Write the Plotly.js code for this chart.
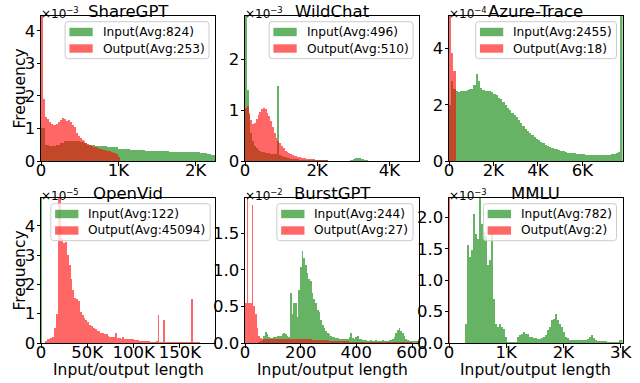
<!DOCTYPE html>
<html><head><meta charset="utf-8">
<script src="https://cdn.plot.ly/plotly-3.0.1.min.js"></script>
<style>html,body{margin:0;padding:0;background:#fff}#chart{width:640px;height:383px}</style>
</head><body><div id="chart"></div>
<script>
// ---------------- DATA ----------------
const datasetNames = ['ShareGPT', 'WildChat', 'Azure-Trace', 'OpenVid', 'BurstGPT', 'MMLU'];
const inputAvg = [824, 496, 2455, 122, 244, 782];
const outputAvg = [253, 510, 18, 45094, 27, 2];
const freqExponent = [-3, -3, -4, -5, -2, -3];

// histogram bin widths (tokens) and bin heights (in units of 10^exponent)
const shareInBin = 50;
const shareIn = [1.0,0.5,0.45,0.46,0.5,0.55,0.6,0.62,0.62,0.6,0.58,0.55,0.5,0.48,0.46,0.45,0.45,0.44,0.44,0.43,
  0.38,0.37,0.36,0.35,0.34,0.34,0.33,0.32,0.31,0.31,0.3,0.3,0.3,0.29,0.29,0.29,0.28,0.28,0.28,0.27,0.27,
  0.26,0.25,0.22,0.2];
const shareOutBin = 25;
const shareOut = [4.6,1.9,1.35,1.3,1.2,1.15,1.12,1.12,1.15,1.2,1.25,1.32,1.28,1.22,1.25,1.2,1.12,1.05,0.85,0.78,
  0.72,0.65,0.6,0.55,0.52,0.48,0.46,0.44,0.42,0.4,0.38,0.36,0.34,0.33,0.31,0.3,0.28,0.26,0.24,0.22,0.12];

const wildInBin = 50;
const wildIn = [2.9,1.4,0.9,0.55,0.4,0.3,0.25,0.22,0.2,0.18, 0.17,0.16,0.15,0.15,0.14,0.13,0.13,0.13,1.48,0.12,
  0.1,0.08,0.07,0.06,0.05,0.045,0.04,0.035,0.03,0.03, 0.025,0.025,0.02,0.02,0.02,0.018,0.016,0.015,0.014,0.013,
  0.012,0.01,0.01,0.01,0.01,0.01,0.008,0.008,0.008,0.008, 0.008,0.008,0.008,0.008,0.008,0.008,0.008,0.008,0.01,0.02,
  0.04,0.05,0.05,0.05,0.04,0.03,0.02,0.01,0.005,0.005, 0.005,0.005,0.005,0.005,0.005,0.005,0.005,0.005,0.005,0.005,
  0.005,0.005,0.005,0.005,0.005,0.005,0.005,0.005,0.005,0.005, 0.005,0.005,0.005,0.005,0.005,0.005];
const wildOutBin = 50;
const wildOut = [1.05,1.08,0.95,0.8,0.72,0.75,0.82,0.9,0.96,1.02, 1.04,1.02,0.95,0.88,0.78,0.66,0.55,0.46,0.4,0.35,
  0.3,0.25,0.2,0.17,0.15,0.13,0.11,0.1,0.09,0.08, 0.07,0.06,0.055,0.05,0.045,0.04,0.035,0.03,0.03,0.025,
  0.025,0.02,0.02,0.015,0.01,0.01];

const azureInBin = 100;
const azureIn = [2.0,2.85,2.55,2.5,2.45,2.5,2.48,2.5,2.52,2.55, 2.58,2.7,3.08,2.85,2.6,2.52,2.5,2.5,2.48,2.45,
  2.4,2.35,2.25,2.2,2.1,2.0,1.9,1.8,1.72,1.65, 1.55,1.45,1.35,1.25,1.15,1.08,1.0,0.92,0.85,0.8,
  0.74,0.68,0.63,0.58,0.54,0.5,0.47,0.44,0.41,0.39, 0.36,0.34,0.32,0.3,0.29,0.28,0.27,0.26,0.25,0.24,
  0.24,0.23,0.23,0.22,0.22,0.21,0.21,0.2,0.2,0.2, 0.2,0.21,0.22,0.24,0.26,0.28,0.33,6.0];
const azureOutBin = 100;
const azureOut = [5.5,3.85,3.2];

const openInBin = 1600;
const openIn = [12];
const openOutBin = 2000;
const openOut = [0,0,0.08,0.12,0.15,0.18,0.2,0.5,1.0,5.5, 5.5,3.6,3.4,3.45,3.0,2.65,2.2,1.8,1.55,1.5,
  1.45,1.05,0.95,0.85,0.78,0.7,0.62,0.58,0.5,0.48, 0.42,0.4,0.35,0.33,0.3,0.32,0.25,0.22,0.22,0.2,
  0.35,0.18,0.16,0.15,0.2,0.15,0.13,0.12,0.14,0.12, 0.1,0.1,0.09,0.08,0.08,0.07,0.07,0.06,0.06,0.05,
  0.05,0.05,0.06,0.95,0.05,0.05,0.78,0.04,0.04,0.04, 0.03,0.04,0.03,0.03,0.04,0.03,0.03,0.03,0.04,0.03,
  0.03,1.5,0.03,0.02,0.02,0.02];

const burstInBin = 6;
const burstIn = [0,0,0,0,0,0,0,0,0.01,0.03, 0.04,0.1,0.15,0.12,0.08,0.07,0.07,0.08,0.08,0.09,
  0.1,0.1,0.12,0.14,0.12,0.09,0.08,0.68,0.4,0.54, 0.55,0.36,0.72,1.04,1.25,1.16,1.06,0.95,0.88,0.84,
  0.68,0.6,0.54,0.45,0.42,0.32,0.24,0.2,0.16,0.14, 0.12,0.09,0.08,0.08,0.07,0.07,0.06,0.06,0.06,0.06,
  0.06,0.05,0.08,0.13,0.07,0.06,0.08,0.09,0.06,0.05, 0.04,0.035,0.035,0.03,0.03,0.035,0.03,0.03,0.035,0.03,
  0.03,0.03,0.035,0.03,0.03,0.03,0.035,0.04,0.05,0.08, 0.13,0.18,0.2,0.17,0.14,0.1,0.06,0.04,0.03,0.03,
  0.03,0.03,0.03,0.03];
const burstOutBin = 6;
const burstOut = [0.54,2.1,0.55,0.55,1.89,0.5,0.4,0.2,0.1,0.07, 0.06,0.06,0.06,0.06,0.06,0.06,0.06,0.06,0.06,0.06,
  0.06,0.05,0.05,0.05,0.05,0.05,0.05,0.05,0.05,0.05, 0.05,0.05,0.05,0.05,0.05,0.05,0.05,0.05,0.05,0.05,
  0.04,0.04,0.035,0.035,0.035,0.035,0.035,0.035,0.035,0.035, 0.03,0.03,0.03,0.03,0.03,0.03,0.03,0.03,0.03,0.03,
  0.025,0.025,0.02,0.02,0.02,0.02,0.02,0.02,0.02,0.02, 0.015,0.015,0.015,0.015,0.015,0.015,0.015,0.015,0.015,0.015,
  0.01,0.01,0.01,0.01,0.01,0.01,0.01,0.01,0.01,0.01, 0.01,0.01,0.01,0.01,0.01,0.01,0.01,0.01,0.01,0.01];

const mmluInBin = 35;
const mmluIn = [0,0,0,0,0,0,0,0,0.31, 1.56,1.37,1.48,2.06,1.74,1.66,2.4,1.9, 1.77,1.7,1.24,1.32,1.74,
  0.7,0.3,0.25,0.31,0.26,0.23,0.1, 0.02,0.02,0.02,0.02,0.02, 0.1,0.12,0.15,0.18,0.14,0.15,
  0.1,0.09,0.08,0.08,0.07,0.07,0.08, 0.1,0.12,0.2,0.26,0.36,0.38,0.47,0.36,0.31, 0.25,0.18,0.1,0.08,
  0.04,0.04,0.04,0.04,0.04,0.04,0.04,0.04,0.04, 0.06,0.1,0.12,0.08,0.05, 0.03,0.03,0.03,0.03,0.03,
  0.01,0.01,0.01,0.01,0.01,0.01, 0.05,0.05];
const mmluOutBin = 15;
const mmluOut = [6];

// axis ticks
const xTickVals = [[0,1000,2000],[0,2000,4000],[0,2000,4000,6000],[0,50000,100000,150000],[0,200,400,600],[0,1000,2000,3000]];
const xTickText = [['0','1K','2K'],['0','2K','4K'],['0','2K','4K','6K'],['0','50K','100K','150K'],['0','200','400','600'],['0','1K','2K','3K']];
const yTickVals = [[0,1,2,3,4],[0,1,2],[0,2,4],[0,1,2,3,4],[0,0.5,1,1.5],[0,0.5,1,1.5,2]];
const yTickText = [['0','1','2','3','4'],['0','1','2'],['0','2','4'],['0','1','2','3','4'],['0.0','0.5','1.0','1.5'],['0.0','0.5','1.0','1.5','2.0']];

// ---------------- LAYOUT / DRAW ----------------
const W = 640, H = 383;
const FONT = 'DejaVu Sans';
const TICK_SIZE = 16.5, LABEL_SIZE = 15.5, TITLE_SIZE = 16.5, LEG_SIZE = 12.2, EXP_SIZE = 12;
const cols = [[41, 215], [245, 419], [449, 622.5]];
const rows = [[16, 161], [198, 343]];
const xMax = [2250, 4820, 7800, 188000, 625, 3030];
const yMax = [4.46, 2.85, 5.16, 4.95, 1.98, 2.31];
const legendAlign = ['right', 'right', 'right', 'center', 'right', 'right'];
const GREEN = 'rgba(0,128,0,0.6)', RED = 'rgba(255,0,0,0.6)';

const series = [
  [shareInBin, shareIn, shareOutBin, shareOut],
  [wildInBin, wildIn, wildOutBin, wildOut],
  [azureInBin, azureIn, azureOutBin, azureOut],
  [openInBin, openIn, openOutBin, openOut],
  [burstInBin, burstIn, burstOutBin, burstOut],
  [mmluInBin, mmluIn, mmluOutBin, mmluOut]
];

const px = x => x / W;
const py = y => 1 - y / H;

const traces = [];
const layout = {
  width: W, height: H, margin: {l: 0, r: 0, t: 0, b: 0},
  paper_bgcolor: '#fff', plot_bgcolor: '#fff',
  barmode: 'overlay', bargap: 0, showlegend: false,
  font: {family: FONT, color: '#000'},
  shapes: [], annotations: []
};

function legendShapes(i, textW) {
  const [c0, c1] = cols[i % 3];
  const r0 = rows[Math.floor(i / 3)][0];
  const bw = 36.6 + textW + 5.5, bh = 37;
  const bl = legendAlign[i] === 'right' ? c1 - 6 - bw : (c0 + c1) / 2 + 2.5 - bw / 2;
  const bt = r0 + 5.7;
  const br = bl + bw, bb = bt + bh, rr = 3;
  const path = `M${px(bl + rr)},${py(bt)} L${px(br - rr)},${py(bt)} Q${px(br)},${py(bt)} ${px(br)},${py(bt + rr)} ` +
    `L${px(br)},${py(bb - rr)} Q${px(br)},${py(bb)} ${px(br - rr)},${py(bb)} L${px(bl + rr)},${py(bb)} ` +
    `Q${px(bl)},${py(bb)} ${px(bl)},${py(bb - rr)} L${px(bl)},${py(bt + rr)} Q${px(bl)},${py(bt)} ${px(bl + rr)},${py(bt)} Z`;
  const out = [{type: 'path', xref: 'paper', yref: 'paper', path: path,
    fillcolor: 'rgba(255,255,255,0.8)', line: {color: '#cccccc', width: 1}}];
  const colors = [GREEN, RED];
  const centers = [bt + 10.3, bt + 26.8];
  for (let k = 0; k < 2; k++) {
    out.push({type: 'rect', xref: 'paper', yref: 'paper',
      x0: px(bl + 4.3), x1: px(bl + 27.6), y0: py(centers[k] - 4.2), y1: py(centers[k] + 4.2),
      fillcolor: colors[k], line: {width: 0}});
  }
  return {shapes: out, bl: bl, centers: centers};
}

const legendAnnIdx = [];
for (let i = 0; i < 6; i++) {
  const s = i === 0 ? '' : String(i + 1);
  const [c0, c1] = cols[i % 3];
  const [r0, r1] = rows[Math.floor(i / 3)];
  const [inBin, inY, outBin, outY] = series[i];
  traces.push({type: 'bar', x0: inBin / 2, dx: inBin, y: inY, width: inBin,
    xaxis: 'x' + s, yaxis: 'y' + s, marker: {color: GREEN, line: {width: 0}}, hoverinfo: 'skip'});
  traces.push({type: 'bar', x0: outBin / 2, dx: outBin, y: outY, width: outBin,
    xaxis: 'x' + s, yaxis: 'y' + s, marker: {color: RED, line: {width: 0}}, hoverinfo: 'skip'});

  const common = {ticks: 'outside', ticklen: 3.5, tickwidth: 1, tickcolor: '#000',
    showline: true, linecolor: '#000', linewidth: 1, mirror: true, showgrid: false, zeroline: false,
    tickfont: {family: FONT, size: TICK_SIZE, color: '#000'}, fixedrange: true, automargin: false};
  layout['xaxis' + s] = Object.assign({}, common, {domain: [px(c0), px(c1)], anchor: 'y' + s,
    range: [0, xMax[i]], tickmode: 'array', tickvals: xTickVals[i], ticktext: xTickText[i], ticklabelstandoff: -9});
  layout['yaxis' + s] = Object.assign({}, common, {domain: [py(r1), py(r0)], anchor: 'x' + s,
    range: [0, yMax[i]], tickmode: 'array', tickvals: yTickVals[i], ticktext: yTickText[i], ticklabelstandoff: -2});

  // title
  layout.annotations.push({text: datasetNames[i], xref: 'paper', yref: 'paper', x: px((c0 + c1) / 2), y: py(r0),
    xanchor: 'center', yanchor: 'bottom', yshift: -7, showarrow: false, font: {family: FONT, size: TITLE_SIZE, color: '#000'}});
  // exponent offset text
  layout.annotations.push({text: '×10<sup>−' + Math.abs(freqExponent[i]) + '</sup>', xref: 'paper', yref: 'paper',
    x: px(c0 - 2), y: py(r0), xanchor: 'left', yanchor: 'bottom', yshift: -7, showarrow: false,
    font: {family: FONT, size: EXP_SIZE, color: '#000'}});

  // legend (shapes are sized after rendering from the real text width)
  const labels = ['Input(Avg:' + inputAvg[i] + ')', 'Output(Avg:' + outputAvg[i] + ')'];
  const lg = legendShapes(i, 95);
  layout.shapes.push(...lg.shapes);
  const idx = [];
  for (let k = 0; k < 2; k++) {
    idx.push(layout.annotations.length);
    layout.annotations.push({text: labels[k], xref: 'paper', yref: 'paper', x: px(lg.bl + 35.6), y: py(lg.centers[k]),
      xanchor: 'left', yanchor: 'middle', showarrow: false, font: {family: FONT, size: LEG_SIZE, color: '#000'}});
  }
  legendAnnIdx.push(idx);
}

// axis labels
for (let r = 0; r < 2; r++) {
  layout.annotations.push({text: 'Frequency', xref: 'paper', yref: 'paper', x: px(19), y: py((rows[r][0] + rows[r][1]) / 2),
    xanchor: 'center', yanchor: 'middle', textangle: -90, showarrow: false, font: {family: FONT, size: LABEL_SIZE, color: '#000'}});
}
for (let c = 0; c < 3; c++) {
  layout.annotations.push({text: 'Input/output length', xref: 'paper', yref: 'paper', x: px((cols[c][0] + cols[c][1]) / 2),
    y: py(370), xanchor: 'center', yanchor: 'middle', showarrow: false, font: {family: FONT, size: LABEL_SIZE, color: '#000'}});
}

Plotly.newPlot('chart', traces, layout, {staticPlot: true, displayModeBar: false}).then(gd => {
  // resize legend boxes to the rendered label widths
  const shapes = [];
  const annUpdate = {};
  for (let i = 0; i < 6; i++) {
    let tw = 0;
    legendAnnIdx[i].forEach(a => {
      const el = gd.querySelector('.annotation[data-index="' + a + '"] text');
      if (el) tw = Math.max(tw, el.getBBox().width);
    });
    if (!tw) tw = 95;
    const lg = legendShapes(i, tw);
    shapes.push(...lg.shapes);
    legendAnnIdx[i].forEach(a => { annUpdate['annotations[' + a + '].x'] = px(lg.bl + 35.6); });
  }
  annUpdate.shapes = shapes;
  return Plotly.relayout(gd, annUpdate);
});
</script>
</body></html>
